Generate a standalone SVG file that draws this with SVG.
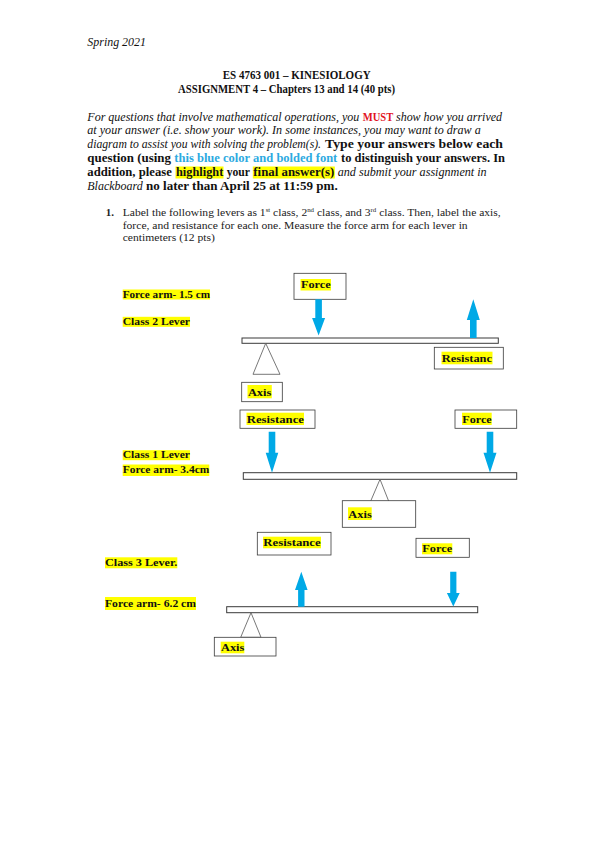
<svg xmlns="http://www.w3.org/2000/svg" width="595" height="842" viewBox="0 0 595 842">
<style>
.t{font-family:"Liberation Serif",serif;font-size:12px;fill:#111}
.it{font-style:italic}
.b{font-weight:bold}
.q{font-family:"Liberation Serif",serif;font-size:11px;fill:#222}
.lbl{font-family:"Liberation Serif",serif;font-size:11px;font-weight:bold;fill:#111}
.hl{fill:#FFFF00}
.box{fill:#fff;stroke:#3a3a3a;stroke-width:0.8}
.beam{fill:#fff;stroke:#3a3a3a;stroke-width:1}
.tri{fill:#fff;stroke:#555;stroke-width:0.8}
.arw{fill:#00A9E6}
</style>
<rect width="595" height="842" fill="#fff"/>

<g id="header">
<text class="t it" x="87.3" y="46" textLength="58.7" lengthAdjust="spacingAndGlyphs">Spring 2021</text>
<text class="t b" x="222.7" y="79" textLength="148" lengthAdjust="spacingAndGlyphs">ES 4763 001 – KINESIOLOGY</text>
<text class="t b" x="178" y="93" textLength="217" lengthAdjust="spacingAndGlyphs">ASSIGNMENT 4 – Chapters 13 and 14 (40 pts)</text>
</g>

<g id="instructions">
<rect class="hl" x="175.5" y="166.5" width="48" height="12"/>
<rect class="hl" x="252.8" y="166.5" width="82" height="12"/>
<text class="t it" x="87.3" y="120.5" textLength="272" lengthAdjust="spacingAndGlyphs">For questions that involve mathematical operations, you</text>
<text class="t b" x="362.7" y="120.5" textLength="30.6" lengthAdjust="spacingAndGlyphs" style="fill:#E2131F">MUST</text>
<text class="t it" x="396" y="120.5" textLength="106" lengthAdjust="spacingAndGlyphs">show how you arrived</text>
<text class="t it" x="87.3" y="134.3" textLength="393.4" lengthAdjust="spacingAndGlyphs">at your answer (i.e. show your work). In some instances, you may want to draw a</text>
<text class="t it" x="87.3" y="148.1" textLength="233.7" lengthAdjust="spacingAndGlyphs">diagram to assist you with solving the problem(s).</text>
<text class="t b" x="325" y="148.1" textLength="178" lengthAdjust="spacingAndGlyphs">Type your answers below each</text>
<text class="t b" x="87.3" y="161.9" textLength="83.7" lengthAdjust="spacingAndGlyphs">question (using</text>
<text class="t b" x="174.3" y="161.9" textLength="163" lengthAdjust="spacingAndGlyphs" style="fill:#2DAAE1">this blue color and bolded font</text>
<text class="t b" x="341" y="161.9" textLength="164" lengthAdjust="spacingAndGlyphs">to distinguish your answers. In</text>
<text class="t b" x="87.3" y="175.7" textLength="84.5" lengthAdjust="spacingAndGlyphs">addition, please</text>
<text class="t b" x="176" y="175.7" textLength="47.3" lengthAdjust="spacingAndGlyphs">highlight</text>
<text class="t b" x="226.7" y="175.7" textLength="23.3" lengthAdjust="spacingAndGlyphs">your</text>
<text class="t b" x="253.3" y="175.7" textLength="81" lengthAdjust="spacingAndGlyphs">final answer(s)</text>
<text class="t it" x="337.7" y="175.7" textLength="149" lengthAdjust="spacingAndGlyphs">and submit your assignment in</text>
<text class="t it" x="87.3" y="189.5" textLength="55.4" lengthAdjust="spacingAndGlyphs">Blackboard</text>
<text class="t b" x="146" y="189.5" textLength="191.7" lengthAdjust="spacingAndGlyphs">no later than April 25 at 11:59 pm.</text>
</g>

<g id="question1">
<text class="q b" x="105.7" y="216">1.</text>
<text class="q" x="122.7" y="216" textLength="378" lengthAdjust="spacingAndGlyphs">Label the following levers as 1<tspan font-size="6.5" dy="-4">st</tspan><tspan dy="4"> class, 2</tspan><tspan font-size="6.5" dy="-4">nd</tspan><tspan dy="4"> class, and 3</tspan><tspan font-size="6.5" dy="-4">rd</tspan><tspan dy="4"> class. Then, label the axis,</tspan></text>
<text class="q" x="122.7" y="228.5" textLength="345" lengthAdjust="spacingAndGlyphs">force, and resistance for each one. Measure the force arm for each lever in</text>
<text class="q" x="122.7" y="241" textLength="92.3" lengthAdjust="spacingAndGlyphs">centimeters (12 pts)</text>
</g>

<!-- Lever 1 (Class 2) -->
<g id="lever1-labels">
<rect class="hl" x="122.7" y="289.5" width="87.3" height="10"/>
<text class="lbl" x="122.7" y="297.5" textLength="87.3" lengthAdjust="spacingAndGlyphs">Force arm- 1.5 cm</text>
<rect class="hl" x="122.7" y="316.8" width="67.3" height="10"/>
<text class="lbl" x="122.7" y="324.7" textLength="67.3" lengthAdjust="spacingAndGlyphs">Class 2 Lever</text>
</g>
<g id="lever1-beam">
<rect class="beam" x="242" y="338" width="256.3" height="5.3"/>
<polygon class="tri" points="265.7,343.3 253,374.3 280,374.3"/>
</g>
<g id="lever1-force">
<rect class="box" x="294" y="273.3" width="52" height="26"/>
<rect class="hl" x="300.5" y="279" width="30.5" height="11.5"/>
<text class="lbl" x="301" y="288.3" textLength="29.7" lengthAdjust="spacingAndGlyphs">Force</text>
</g>
<g id="lever1-resistance">
<rect class="box" x="434.3" y="347.3" width="69" height="21.7"/>
<rect class="hl" x="441.5" y="351.7" width="51" height="12.6"/>
<text class="lbl" x="441.7" y="361.8" textLength="50.3" lengthAdjust="spacingAndGlyphs">Resistanc</text>
</g>
<g id="lever1-axis">
<rect class="box" x="241.7" y="382.3" width="40.6" height="19.4"/>
<rect class="hl" x="247.5" y="385" width="24.3" height="13.3"/>
<text class="lbl" x="247.9" y="395.8" textLength="23.5" lengthAdjust="spacingAndGlyphs">Axis</text>
</g>

<!-- Lever 2 (Class 1) -->
<g id="lever2-labels">
<rect class="hl" x="122.7" y="450.2" width="67.3" height="10"/>
<text class="lbl" x="122.7" y="458.2" textLength="67.3" lengthAdjust="spacingAndGlyphs">Class 1 Lever</text>
<rect class="hl" x="122.7" y="464.5" width="86.6" height="11.5"/>
<text class="lbl" x="122.7" y="472.5" textLength="86.6" lengthAdjust="spacingAndGlyphs">Force arm- 3.4cm</text>
</g>
<g id="lever2-beam">
<rect class="beam" x="243.3" y="472.7" width="273.4" height="6.6"/>
<polygon class="tri" points="380,479.3 370,502.7 389.3,502.7"/>
</g>
<g id="lever2-resistance">
<rect class="box" x="240" y="410" width="75" height="18.3"/>
<rect class="hl" x="246.5" y="412.7" width="57.5" height="12.3"/>
<text class="lbl" x="246.7" y="422.7" textLength="57.3" lengthAdjust="spacingAndGlyphs">Resistance</text>
</g>
<g id="lever2-force">
<rect class="box" x="455" y="410" width="61.7" height="18.3"/>
<rect class="hl" x="462" y="412.7" width="29.7" height="12.3"/>
<text class="lbl" x="462.3" y="422.7" textLength="29.4" lengthAdjust="spacingAndGlyphs">Force</text>
</g>
<g id="lever2-axis">
<rect class="box" x="342.3" y="500.7" width="73.4" height="26.6"/>
<rect class="hl" x="348" y="507.3" width="23.7" height="12.7"/>
<text class="lbl" x="348.3" y="517.7" textLength="23.4" lengthAdjust="spacingAndGlyphs">Axis</text>
</g>

<!-- Lever 3 (Class 3) -->
<g id="lever3-labels">
<rect class="hl" x="105" y="557.3" width="72.3" height="11"/>
<text class="lbl" x="105" y="566" textLength="72.3" lengthAdjust="spacingAndGlyphs">Class 3 Lever.</text>
<rect class="hl" x="105" y="597" width="91" height="13"/>
<text class="lbl" x="105" y="606.5" textLength="91" lengthAdjust="spacingAndGlyphs">Force arm- 6.2 cm</text>
</g>
<g id="lever3-beam">
<rect class="beam" x="226.7" y="606.7" width="251" height="6"/>
<polygon class="tri" points="251,612.7 240.7,637.3 261,637.3"/>
</g>
<g id="lever3-resistance">
<rect class="box" x="257.3" y="532.3" width="73.7" height="22.7"/>
<rect class="hl" x="263" y="536.7" width="58" height="11.6"/>
<text class="lbl" x="263.3" y="546.3" textLength="57.4" lengthAdjust="spacingAndGlyphs">Resistance</text>
</g>
<g id="lever3-force">
<rect class="box" x="416" y="538.3" width="53.3" height="19"/>
<rect class="hl" x="422" y="543.3" width="30.3" height="11"/>
<text class="lbl" x="422.3" y="552.3" textLength="30" lengthAdjust="spacingAndGlyphs">Force</text>
</g>
<g id="lever3-axis">
<rect class="box" x="214.3" y="637.3" width="61.7" height="18.7"/>
<rect class="hl" x="220.7" y="641.7" width="23.6" height="11.6"/>
<text class="lbl" x="221" y="651" textLength="23.3" lengthAdjust="spacingAndGlyphs">Axis</text>
</g>

<g id="connectors">
<polygon class="arw" points="315.3,299.3 321.9,299.3 321.9,318 325.1,318 318.6,335.5 312.1,318 315.3,318"/>
<polygon class="arw" points="473.3,299.3 479.8,320 476.6,320 476.6,338 470,338 470,320 466.8,320"/>
<polygon class="arw" points="268.7,431.7 275.3,431.7 275.3,452.7 278.3,452.7 272,472.7 265.7,452.7 268.7,452.7"/>
<polygon class="arw" points="486.7,431.7 493.3,431.7 493.3,452.7 496.5,452.7 490,472.7 483.5,452.7 486.7,452.7"/>
<polygon class="arw" points="301.3,571.7 307.6,590 304.5,590 304.5,606.7 298.1,606.7 298.1,590 295,590"/>
<polygon class="arw" points="450.2,571.7 456.4,571.7 456.4,593 459.7,593 453.3,606.5 446.9,593 450.2,593"/>
</g>
</svg>
